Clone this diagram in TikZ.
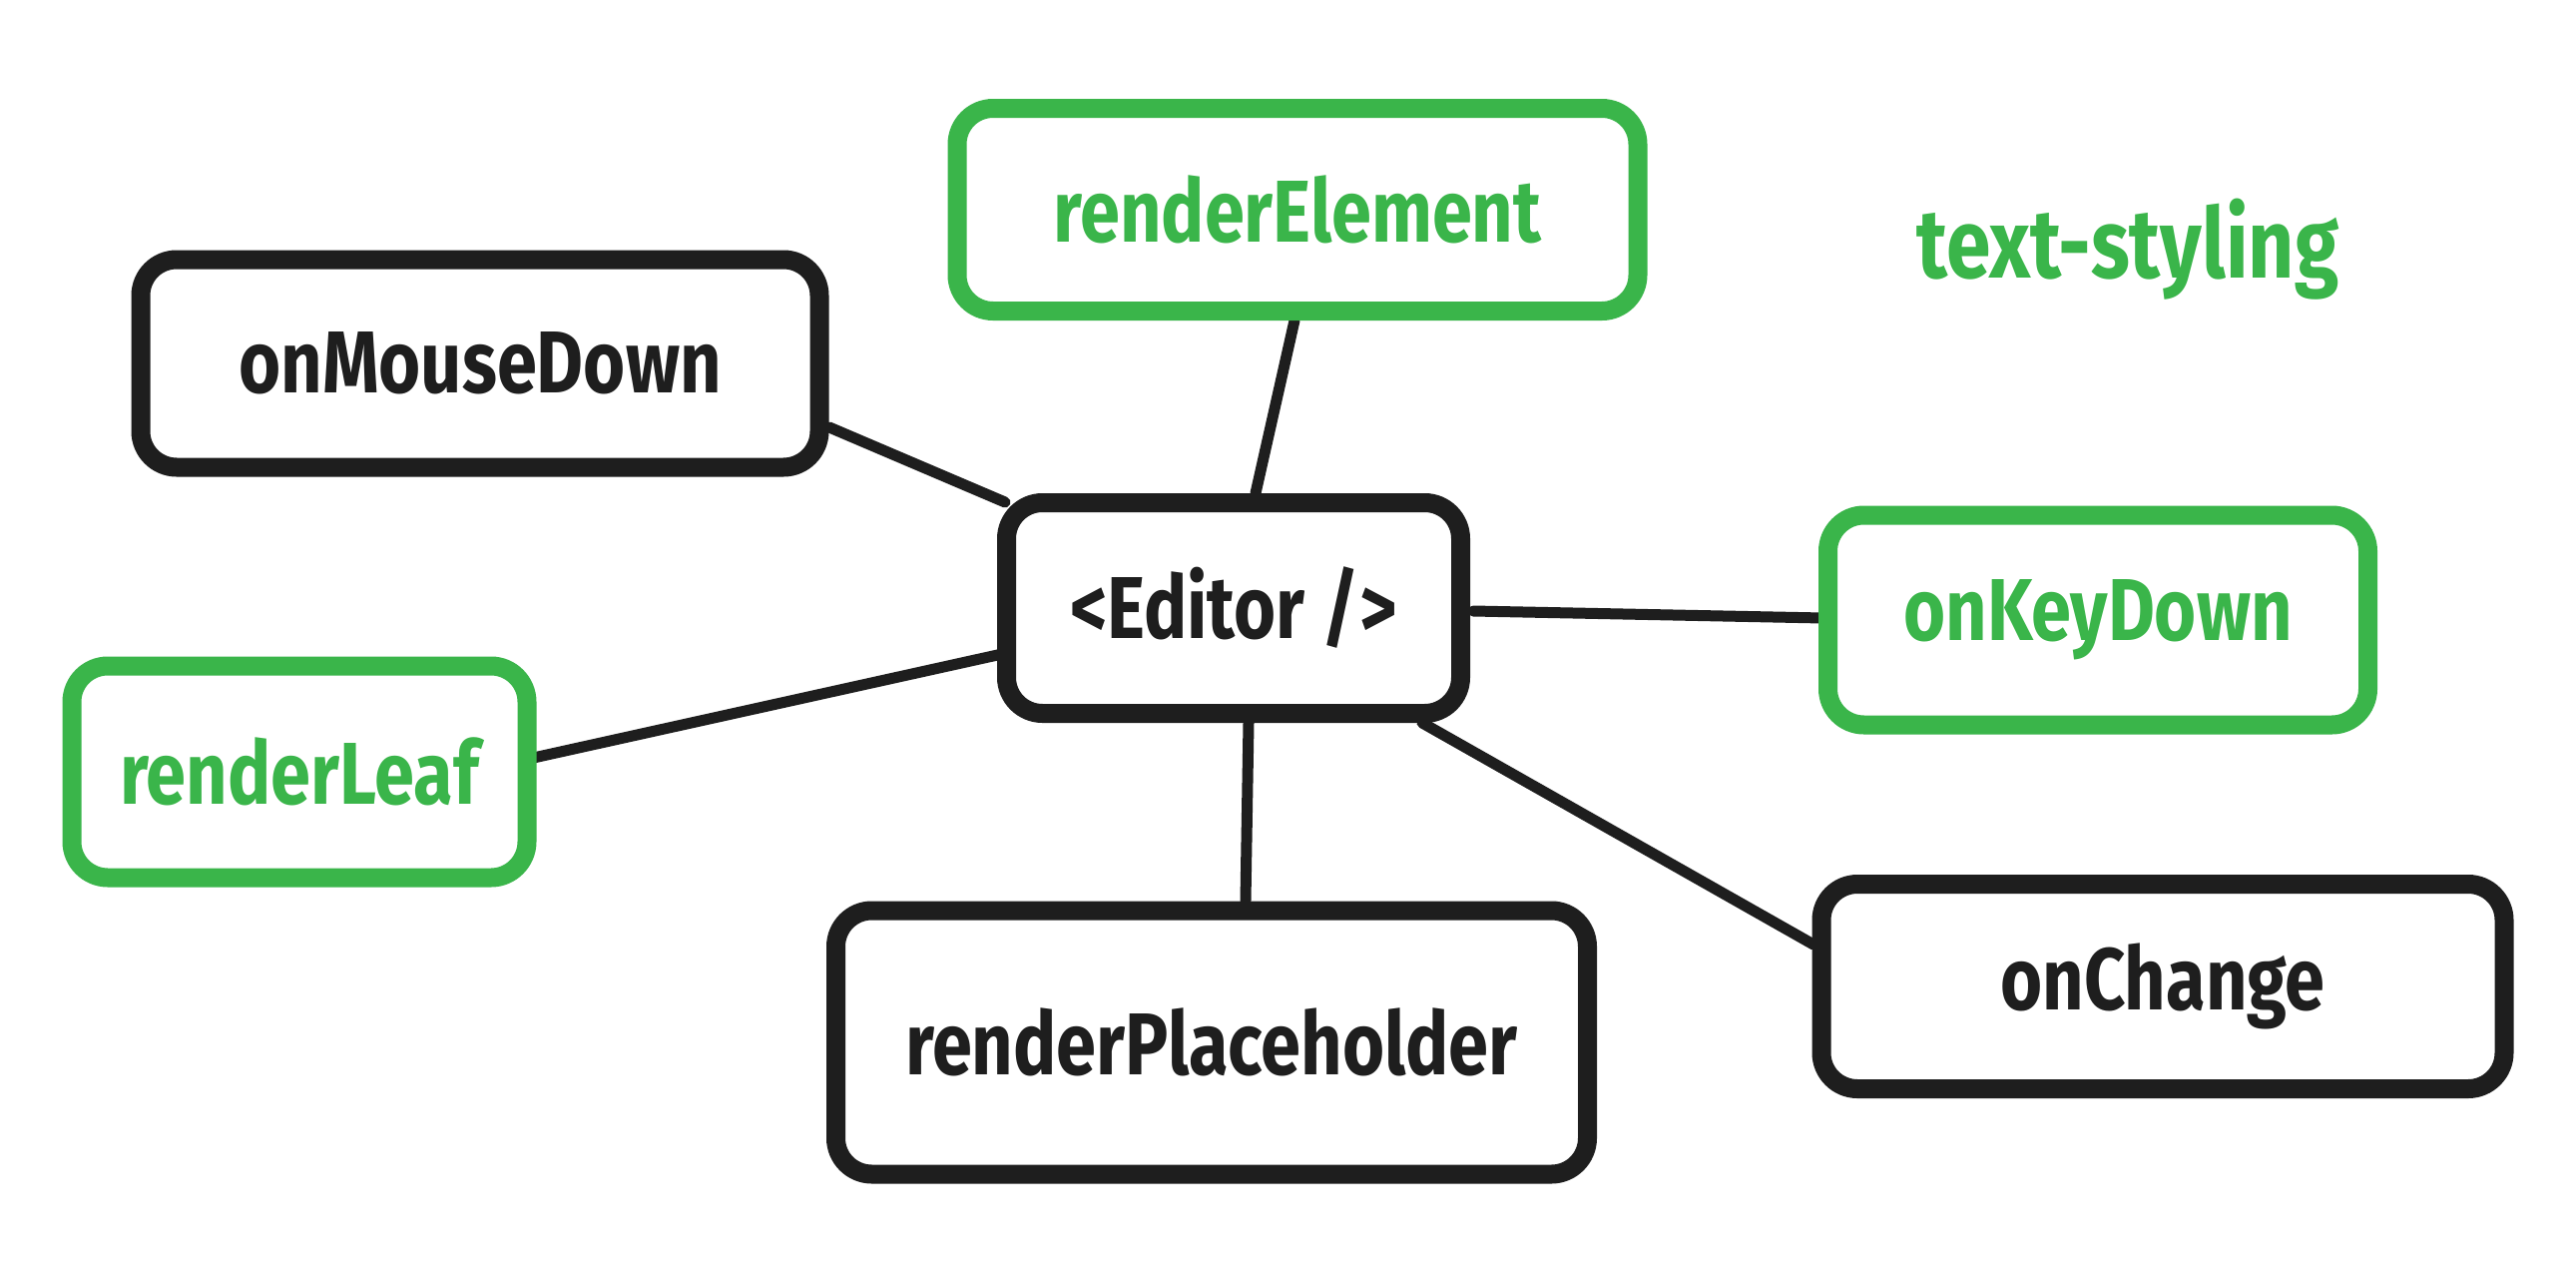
\documentclass[tikz,border=0pt]{standalone}
\usepackage{fontspec}
\setmainfont{Fira Sans}[FakeStretch=0.82]
\usetikzlibrary{calc}
\definecolor{ink}{HTML}{1E1E1E}
\definecolor{leaf}{HTML}{3AB54A}
\tikzset{
  lbl/.style={font=\fontsize{88}{92}\selectfont\bfseries},
  box/.style={draw=ink, line width=19pt, rounded corners=36pt, fill=white,
    inner sep=0pt, lbl, text=ink},
  gbox/.style={box, draw=leaf, text=leaf},
  link/.style={draw=ink, line width=11pt, line cap=round},
}
\begin{document}
\begin{tikzpicture}[x=1pt,y=-1pt]
\useasboundingbox[fill=white] (0,0) rectangle (2581,1280);
% node centres
\coordinate (cElem) at (1300,210);
\coordinate (cMouse) at (481,364);
\coordinate (cEd) at (1236,609);
\coordinate (cKey) at (2102,621);
\coordinate (cLeaf) at (300,773);
\coordinate (cPh) at (1214,1044);
\coordinate (cCh) at (2167,988);
% connectors
\draw[link] ($(cMouse)+(350,64)$) -- ($(cEd)+(-229,-106)$);
\draw[link] ($(cElem)+(-3,111)$) -- ($(cEd)+(22,-115)$);
\draw[link] ($(cEd)+(240,3)$) -- ($(cKey)+(-275,-2)$);
\draw[link] ($(cEd)+(-232,46)$) -- ($(cLeaf)+(230,-13)$);
\draw[link] ($(cEd)+(15,115)$) -- ($(cPh)+(34,-142)$);
\draw[link] ($(cEd)+(189,115)$) -- ($(cCh)+(-350,-42)$);
% boxes
\node[gbox, minimum width=682pt, minimum height=203pt] (elem) at (cElem) {renderElement};
\node[box, minimum width=680pt, minimum height=208pt] (mouse) at (cMouse) {onMouseDown};
\node[box, minimum width=455pt, minimum height=211pt] (ed) at (cEd) {<Editor />};
\node[gbox, minimum width=541pt, minimum height=210pt] (key) at (cKey) {onKeyDown};
\node[gbox, minimum width=456pt, minimum height=212pt] (leafn) at (cLeaf) {renderLeaf};
\node[box, minimum width=753pt, minimum height=264pt] (ph) at (cPh) {renderPlaceholder};
\node[box, minimum width=684pt, minimum height=205pt] (ch) at (cCh) {onChange};
\node[text=leaf, font=\fontsize{98}{102}\selectfont\bfseries] (ts) at (2132,250) {text-styling};
\end{tikzpicture}
\end{document}
